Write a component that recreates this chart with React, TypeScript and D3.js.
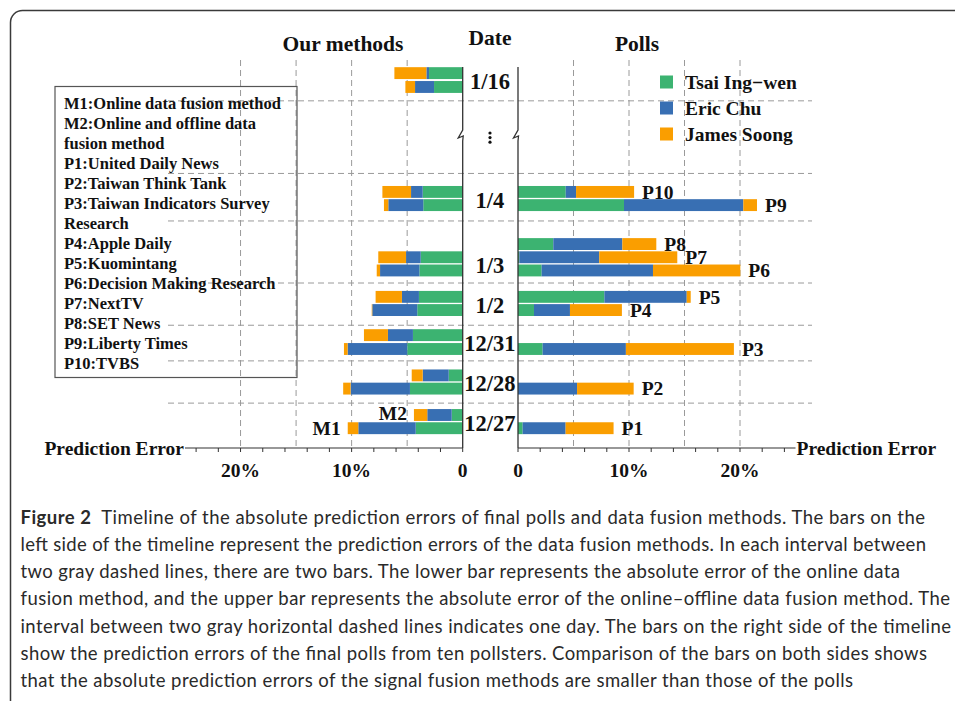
import React from "react";
import * as d3 from "d3";

// ---------- DATA ----------
const dates = ["1/16", "1/4", "1/3", "1/2", "12/31", "12/28", "12/27"];
const candidates = ["Tsai Ing−wen", "Eric Chu", "James Soong"];
// M1: online data fusion method (lower bar) — absolute error (%)
const m1Tsai = [2.58, 3.55, 3.9, 4.09, 4.99, 4.75, 4.23];
const m1Chu = [1.71, 3.15, 3.54, 4.05, 5.37, 5.34, 5.17];
const m1Soong = [0.87, 0.39, 0.3, 0.05, 0.33, 0.67, 0.95];
// M2: online and offline data fusion method (upper bar)
const m2Tsai = [3.03, 3.6, 3.78, 3.94, 4.48, 1.26, 0.99];
const m2Chu = [0.24, 1.05, 1.32, 1.53, 2.25, 2.34, 2.2];
const m2Soong = [2.88, 2.58, 2.5, 2.37, 2.16, 0.99, 1.2];
// Polls
const polls = ["P1", "P2", "P3", "P4", "P5", "P6", "P7", "P8", "P9", "P10"];
const pollDate = ["12/27", "12/28", "12/31", "1/2", "1/2", "1/3", "1/3", "1/3", "1/4", "1/4"];
const pollTsai = [0.42, 0.0, 2.22, 1.44, 7.78, 2.13, 0.12, 3.18, 9.55, 4.3];
const pollChu = [3.87, 5.32, 7.5, 3.24, 7.42, 10.03, 7.2, 6.22, 10.75, 0.93];
const pollSoong = [4.32, 5.1, 9.73, 4.68, 0.36, 7.87, 7.03, 3.06, 1.23, 5.23];
const legendLines = [
  "M1:Online data fusion method",
  "M2:Online and offline data",
  "fusion method",
  "P1:United Daily News",
  "P2:Taiwan Think Tank",
  "P3:Taiwan Indicators Survey",
  "Research",
  "P4:Apple Daily",
  "P5:Kuomintang",
  "P6:Decision Making Research",
  "P7:NextTV",
  "P8:SET News",
  "P9:Liberty Times",
  "P10:TVBS",
];
const xTicks = [0, 2, 4, 6, 8, 10, 12, 14, 16, 18, 20, 22, 24];
const xTickLabels = [0, 10, 20];
const xGrid = [5, 10, 15, 20];
const captionLines = [
  "Timeline of the absolute prediction errors of final polls and data fusion methods. The bars on the",
  "left side of the timeline represent the prediction errors of the data fusion methods. In each interval between",
  "two gray dashed lines, there are two bars. The lower bar represents the absolute error of the online data",
  "fusion method, and the upper bar represents the absolute error of the online–offline data fusion method. The",
  "interval between two gray horizontal dashed lines indicates one day. The bars on the right side of the timeline",
  "show the prediction errors of the final polls from ten pollsters. Comparison of the bars on both sides shows",
  "that the absolute prediction errors of the signal fusion methods are smaller than those of the polls",
];

// ---------- LAYOUT (slot units along the timeline) ----------
const m1Slot = [27.35, 18.4, 13.45, 10.45, 7.5, 4.5, 1.5];
const m2Slot = [28.4, 19.4, 14.45, 11.45, 8.55, 5.5, 2.5];
const pollSlot = [1.5, 4.5, 7.5, 10.45, 11.45, 13.45, 14.45, 15.45, 18.4, 19.4];
const sepSlot = [3.4, 6.6, 9.3, 12.5, 17.2, 20.8, 26.3];
const captionEnds = [925, 926, 900, 950, 951, 927, 853];

const COLORS = ["#3CB371", "#386FB3", "#FA9E00"];
const SERIF = "'Liberation Serif', 'Times New Roman', serif";
const keys = ["tsai", "chu", "soong"];

export default function App() {
  const W = 955, H = 701;
  const xL = d3.scaleLinear().domain([0, 25]).range([462.7, 185]);
  const xR = d3.scaleLinear().domain([0, 25]).range([518, 795.5]);
  const y = d3.scaleLinear().domain([0, 1]).range([448, 434.8]);
  const barH = y(0) - y(0.9);
  const stack = d3.stack<any>().keys(keys);

  const m1Rows = dates.map((d, i) => ({ date: d, slot: m1Slot[i], tsai: m1Tsai[i], chu: m1Chu[i], soong: m1Soong[i] }));
  const m2Rows = dates.map((d, i) => ({ date: d, slot: m2Slot[i], tsai: m2Tsai[i], chu: m2Chu[i], soong: m2Soong[i] }));
  const pollRows = polls.map((p, i) => ({ name: p, date: pollDate[i], slot: pollSlot[i], tsai: pollTsai[i], chu: pollChu[i], soong: pollSoong[i] }));
  const leftRows = [...m1Rows, ...m2Rows];
  const leftStack = stack(leftRows);
  const rightStack = stack(pollRows);

  const yAxis = y(0);
  const yTop = 67;
  const yGridTop = 60;
  const yBreak = 136;
  const baseline = (x: number) =>
    `M${x},${yTop}V${yBreak - 6}L${x - 4.5},${yBreak + 2}L${x + 0.5},${yBreak}L${x},${yBreak + 5}V${yAxis}`;

  const boldSerif = { fontFamily: SERIF, fontWeight: 700 as const, fill: "#111" };

  return (
    <svg width={W} height={H} style={{ position: "absolute", left: 0, top: 0, background: "#fff" }}>
      <rect x={0} y={0} width={W} height={H} fill="#fff" />
      {/* frame */}
      <rect x={10.5} y={10.5} width={980} height={760} rx={12} fill="none" stroke="#3a3a3a" strokeWidth={1.5} />

      {/* vertical grid */}
      {xGrid.map((v) => (
        <g key={"g" + v}>
          <line x1={xL(v)} x2={xL(v)} y1={yGridTop} y2={yAxis} stroke="#9a9a9a" strokeDasharray="6,4" strokeWidth={1} />
          <line x1={xR(v)} x2={xR(v)} y1={yGridTop} y2={yAxis} stroke="#9a9a9a" strokeDasharray="6,4" strokeWidth={1} />
        </g>
      ))}
      {/* horizontal separators */}
      {sepSlot.map((s, i) => (
        <line key={"s" + i} x1={168} x2={812} y1={y(s)} y2={y(s)} stroke="#9a9a9a" strokeDasharray="6,4" strokeWidth={1} />
      ))}

      {/* left bars */}
      {leftStack.map((layer, k) => (
        <g key={"L" + k} fill={COLORS[k]}>
          {layer.map((d: any, i: number) => (
            <rect key={i} x={xL(d[1])} width={Math.max(0, xL(d[0]) - xL(d[1]))} y={y(d.data.slot) - barH / 2} height={barH} />
          ))}
        </g>
      ))}
      {/* right bars */}
      {rightStack.map((layer, k) => (
        <g key={"R" + k} fill={COLORS[k]}>
          {layer.map((d: any, i: number) => (
            <rect key={i} x={xR(d[0])} width={Math.max(0, xR(d[1]) - xR(d[0]))} y={y(d.data.slot) - barH / 2} height={barH} />
          ))}
        </g>
      ))}

      {/* poll labels */}
      {pollRows.map((p) => (
        <text key={p.name} x={xR(p.tsai + p.chu + p.soong) + 8} y={y(p.slot)} dy="0.35em" fontSize={19.5} {...boldSerif}>
          {p.name}
        </text>
      ))}
      {/* M labels at 12/27 */}
      <text x={xL(m1Rows[6].tsai + m1Rows[6].chu + m1Rows[6].soong) - 7} y={y(m1Rows[6].slot)} dy="0.35em" textAnchor="end" fontSize={19.5} {...boldSerif}>M1</text>
      <text x={xL(m2Rows[6].tsai + m2Rows[6].chu + m2Rows[6].soong) - 7} y={y(m2Rows[6].slot) - 1.5} dy="0.35em" textAnchor="end" fontSize={19.5} {...boldSerif}>M2</text>

      {/* timeline baselines */}
      <path d={baseline(xL(0))} fill="none" stroke="#333" strokeWidth={1.3} />
      <path d={baseline(xR(0))} fill="none" stroke="#333" strokeWidth={1.3} />
      {/* vertical ellipsis */}
      {[0, 1, 2].map((i) => (
        <circle key={"e" + i} cx={490} cy={yBreak - 3 + i * 4.6} r={1.6} fill="#111" />
      ))}

      {/* date labels */}
      {dates.map((d, i) => (
        <text key={d} x={490} y={(y(m1Slot[i]) + y(m2Slot[i])) / 2 + 1.5} dy="0.35em" textAnchor="middle" fontSize={22.5} {...boldSerif}>
          {d}
        </text>
      ))}

      {/* x axes */}
      <line x1={xL(25)} x2={xL(0)} y1={yAxis} y2={yAxis} stroke="#333" strokeWidth={1.2} />
      <line x1={xR(0)} x2={xR(25)} y1={yAxis} y2={yAxis} stroke="#333" strokeWidth={1.2} />
      {xTicks.map((t) => (
        <g key={"t" + t}>
          <line x1={xL(t)} x2={xL(t)} y1={yAxis} y2={yAxis + 4} stroke="#333" strokeWidth={1} />
          <line x1={xR(t)} x2={xR(t)} y1={yAxis} y2={yAxis + 4} stroke="#333" strokeWidth={1} />
        </g>
      ))}
      {xTickLabels.map((t) => (
        <g key={"tl" + t}>
          <text x={xL(t)} y={477} textAnchor="middle" fontSize={19.5} {...boldSerif}>{t === 0 ? "0" : t + "%"}</text>
          <text x={xR(t)} y={477} textAnchor="middle" fontSize={19.5} {...boldSerif}>{t === 0 ? "0" : t + "%"}</text>
        </g>
      ))}
      <text x={xL(25) - 1} y={yAxis + 6.5} textAnchor="end" fontSize={19.5} {...boldSerif}>Prediction Error</text>
      <text x={xR(25) + 1} y={yAxis + 6.5} textAnchor="start" fontSize={19.5} {...boldSerif}>Prediction Error</text>

      {/* titles */}
      <text x={343} y={50.5} textAnchor="middle" fontSize={21.5} {...boldSerif}>Our methods</text>
      <text x={490} y={45} textAnchor="middle" fontSize={21.5} {...boldSerif}>Date</text>
      <text x={637} y={50.5} textAnchor="middle" fontSize={21.5} {...boldSerif}>Polls</text>

      {/* candidate legend */}
      {candidates.map((c, i) => (
        <g key={c} transform={`translate(660,${82 + i * 26})`}>
          <rect x={0} y={-6.5} width={13} height={13} fill={COLORS[i]} />
          <text x={25} y={0} dy="0.35em" fontSize={19.5} {...boldSerif}>{c}</text>
        </g>
      ))}

      {/* abbreviations box */}
      <rect x={55} y={86.5} width={242} height={291} fill="none" stroke="#555" strokeWidth={1.2} />
      {legendLines.map((l, i) => (
        <text key={l} x={64} y={109 + i * 20} fontSize={16.5} {...boldSerif}>{l}</text>
      ))}

      {/* caption */}
      {captionLines.map((l, i) => (
        <text
          key={i}
          x={20.5}
          y={523.5 + i * 27.3}
          fontSize={18.5}
          fontFamily="Lato, 'Noto Sans', sans-serif"
          fill="#2a2a2a"
          textLength={captionEnds[i] - 20.5}
          lengthAdjust="spacing"
        >
          {i === 0 ? (
            <>
              <tspan fontWeight={700}>Figure 2</tspan>
              <tspan>{"\u00A0\u00A0" + l}</tspan>
            </>
          ) : (
            l
          )}
        </text>
      ))}
    </svg>
  );
}
